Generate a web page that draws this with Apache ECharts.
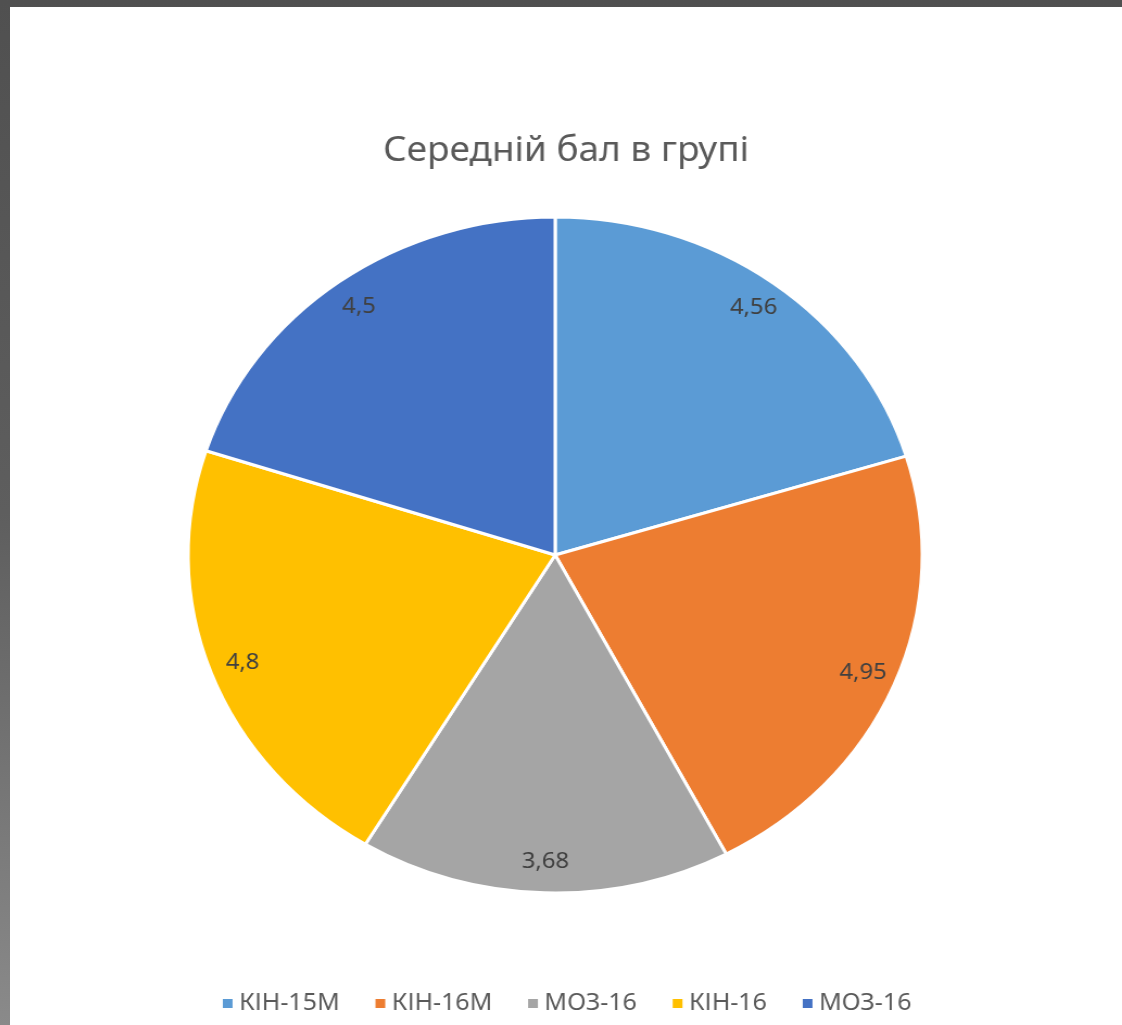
<!DOCTYPE html>
<html>
<head>
<meta charset="utf-8">
<script src="https://cdn.jsdelivr.net/npm/echarts@6/dist/echarts.min.js"></script>
<style>
  html, body { margin: 0; padding: 0; }
  body {
    width: 1122px; height: 1025px; overflow: hidden; position: relative;
    background: linear-gradient(to bottom, #505050 0%, #5e5e5e 50%, #8a8a8a 100%);
  }
  #panel { position: absolute; left: 10px; top: 7px; width: 1112px; height: 1018px; background: #ffffff; }
  #chart {
    position: absolute; left: 10px; top: 7px; width: 1024px; height: 1018px;
    transform-origin: 0 0; transform: scaleX(1.086);
  }
</style>
</head>
<body>
<div id="panel"></div>
<div id="chart"></div>
<script>
const titleText = 'Середній бал в групі';
const categories = ['КІН-15М', 'КІН-16М', 'МОЗ-16', 'КІН-16', 'МОЗ-16'];
const values = [4.56, 4.95, 3.68, 4.8, 4.5];
const colors = ['#5B9BD5', '#ED7D31', '#A5A5A5', '#FFC000', '#4472C4'];

// unique keys (two categories share the same label)
const keys = categories.map((c, i) => i + '|' + c);
const pieData = values.map((v, i) => ({ name: keys[i], value: v, itemStyle: { color: colors[i] } }));
const labelData = values.map((v, i) => ({ name: keys[i], value: v }));

const chart = echarts.init(document.getElementById('chart'), null, { renderer: 'canvas' });
const center = [502, 548];
const R = 338;
chart.setOption({
  animation: false,
  title: {
    text: titleText, left: 'center', top: 122,
    textStyle: { fontFamily: 'Noto Sans', fontSize: 34, fontWeight: 'normal', color: '#595959' }
  },
  legend: {
    data: keys, bottom: 5, left: 'center',
    icon: 'rect', itemWidth: 11, itemHeight: 11, itemGap: 31,
    formatter: n => n.split('|')[1],
    textStyle: { fontFamily: 'Noto Sans', fontSize: 23, color: '#595959' }
  },
  series: [
    {
      type: 'pie', center: center, radius: R, startAngle: 90, clockwise: true,
      silent: true, data: pieData,
      itemStyle: { borderColor: '#ffffff', borderWidth: 3 },
      label: { show: false }, labelLine: { show: false }
    },
    {
      type: 'pie', center: center, radius: [R * 0.8, R], startAngle: 90, clockwise: true,
      silent: true, data: labelData,
      itemStyle: { color: 'rgba(0,0,0,0)' },
      label: {
        show: true, position: 'inside',
        formatter: p => String(p.value).replace('.', ','),
        fontFamily: 'Noto Sans', fontSize: 22, color: '#404040'
      },
      labelLine: { show: false }
    }
  ]
});
</script>
</body>
</html>
